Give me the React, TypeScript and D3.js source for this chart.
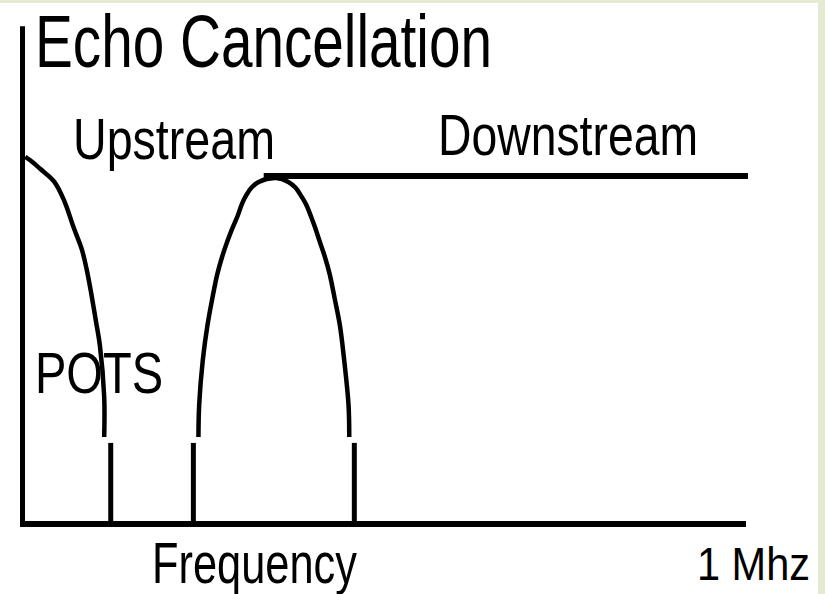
import React from 'react';
import * as d3 from 'd3';

// frequency in kHz, level relative to the downstream band (1 = full)
const potsFreq = [3, 10, 24, 43, 57, 70, 81, 88, 94.5, 101, 106, 112, 112];
const potsLevel = [1.055, 1.045, 1.02, 0.984, 0.928, 0.851, 0.79, 0.73, 0.658, 0.578, 0.514, 0.365, 0.25];

const upFreq = [242, 243, 248, 254.5, 261, 268, 275, 282, 289, 296, 302, 308, 315, 325, 349,
  366, 376, 383, 390, 397, 403, 409, 416, 423, 430, 437, 443, 449, 450];
const upLevel = [0.25, 0.342, 0.471, 0.572, 0.647, 0.718, 0.77, 0.813, 0.851, 0.885, 0.92, 0.945, 0.966, 0.983, 0.994,
  0.983, 0.966, 0.945, 0.92, 0.885, 0.851, 0.813, 0.77, 0.718, 0.647, 0.572, 0.471, 0.342, 0.25];

const downFreq = [332, 1000];
const downLevel = [1, 1];

const bandEdges = [121, 235, 457];
const edgeTop = 0.233;
const axisTop = 1.43;

const title = 'Echo Cancellation';
const upLabel = 'Upstream';
const downLabel = 'Downstream';
const potsLabel = 'POTS';
const xLabel = 'Frequency';
const xMaxLabel = '1 Mhz';

export default function App() {
  const width = 825, height = 594;
  const x = d3.scaleLinear().domain([0, 1000]).range([23, 748]);
  const y = d3.scaleLinear().domain([0, 1]).range([524, 176]);

  const potsLine = d3.line<[number, number]>()
    .x(d => x(d[0]))
    .y(d => y(d[1]))
    .curve(d3.curveCatmullRom.alpha(0.5));

  const archLine = d3.line<[number, number]>()
    .x(d => x(d[0]))
    .y(d => y(d[1]))
    .curve(d3.curveCatmullRom.alpha(0.5));

  const pots = potsLine(potsFreq.map((f, i) => [f, potsLevel[i]]));
  const up = archLine(upFreq.map((f, i) => [f, upLevel[i]]));
  const down = d3.line<[number, number]>().x(d => x(d[0])).y(d => y(d[1]))(downFreq.map((f, i) => [f, downLevel[i]]));

  const font = '"Liberation Sans", Arial, sans-serif';

  return (
    <div style={{ position: 'fixed', left: 0, top: 0, width, height }}>
      <svg width={width} height={height} style={{ display: 'block' }}>
        <rect width={width} height={height} fill="#e5ebd2" />
        <rect x={0} y={3} width={818} height={height - 3} fill="#ffffff" />

        {/* axes */}
        <line x1={x(0) - 0.5} x2={x(0) - 0.5} y1={y(axisTop)} y2={y(0) + 3} stroke="#000" strokeWidth={5} />
        <line x1={x(0) - 3} x2={x(1000) - 2} y1={y(0)} y2={y(0)} stroke="#000" strokeWidth={6} />

        {/* spectra */}
        <path d={pots || ''} fill="none" stroke="#000" strokeWidth={4.5} />
        <path d={up || ''} fill="none" stroke="#000" strokeWidth={4.5} />
        <path d={down || ''} fill="none" stroke="#000" strokeWidth={6} />

        {bandEdges.map((f, i) => (
          <line key={i} x1={x(f)} x2={x(f)} y1={y(edgeTop)} y2={y(0)} stroke="#000" strokeWidth={5} />
        ))}

        <g fontFamily={font} fill="#000">
          <text x={35} y={67} fontSize={74} textLength={457} lengthAdjust="spacingAndGlyphs">{title}</text>
          <text x={73} y={159} fontSize={58} textLength={202} lengthAdjust="spacingAndGlyphs">{upLabel}</text>
          <text x={438} y={155} fontSize={58} textLength={260} lengthAdjust="spacingAndGlyphs">{downLabel}</text>
          <text x={35} y={393} fontSize={57} textLength={128} lengthAdjust="spacingAndGlyphs">{potsLabel}</text>
          <text x={152} y={583} fontSize={57} textLength={205} lengthAdjust="spacingAndGlyphs">{xLabel}</text>
          <text x={697} y={580} fontSize={46} textLength={113} lengthAdjust="spacingAndGlyphs">{xMaxLabel}</text>
        </g>
      </svg>
    </div>
  );
}
